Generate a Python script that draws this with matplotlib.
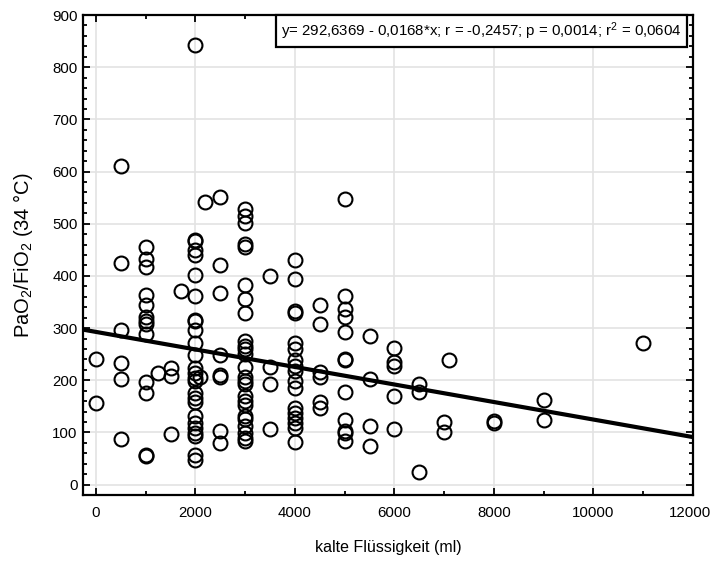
import matplotlib
matplotlib.use('Agg')
import matplotlib.pyplot as plt
import matplotlib.transforms as mtransforms
from matplotlib.ticker import MultipleLocator

# Volume of cold fluid (ml) per column of points, and the PaO2/FiO2 values
fluid_x = (
    [0] * 2 + [500] * 6 + [1000] * 13 + [1250] + [1500] * 3 + [1700]
    + [2000] * 26 + [2100] + [2200] + [2500] * 8 + [3000] * 25 + [3500] * 4
    + [4000] * 17 + [4500] * 6 + [5000] * 12 + [5500] * 4 + [6000] * 5
    + [6500] * 3 + [7000] * 2 + [7100] + [8000] * 2 + [9000] * 2 + [11000]
)
pao2_fio2 = [
    241, 156,
    610, 425, 296, 234, 203, 88,
    455, 433, 418, 364, 344, 322, 313, 308, 289, 196, 176, 57, 55,
    214,
    224, 209, 96,
    372,
    843, 468, 466, 449, 440, 402, 361, 316, 313, 297, 271, 249, 224, 214, 204,
    198, 176, 166, 158, 131, 118, 109, 99, 93, 57, 48,
    206,
    541,
    552, 421, 367, 249, 211, 206, 103, 80,
    529, 514, 502, 461, 456, 383, 356, 329, 275, 265, 259, 251, 225, 207, 198,
    192, 169, 160, 153, 131, 125, 113, 99, 89, 83,
    399, 225, 192, 107,
    430, 395, 332, 329, 271, 259, 239, 227, 217, 198, 185, 147, 137, 128, 118,
    109, 81,
    345, 307, 216, 206, 158, 147,
    547, 361, 337, 322, 292, 241, 239, 177, 123, 102, 99, 84,
    284, 203, 112, 73,
    261, 235, 227, 169, 107,
    193, 177, 24,
    120, 100,
    238,
    121, 118,
    162, 123,
    271,
]

# Regression result as printed on the chart
intercept = 292.6369
slope = -0.0168
fit_text = 'y= 292,6369 - 0,0168*x; r = -0,2457; p = 0,0014; r$^2$ = 0,0604'

x_ticks = [0, 2000, 4000, 6000, 8000, 10000, 12000]
y_ticks = [0, 100, 200, 300, 400, 500, 600, 700, 800, 900]


def draw_plot():
    plt.rcParams['font.family'] = ['Liberation Sans', 'DejaVu Sans']
    plt.rcParams['mathtext.fontset'] = 'custom'
    plt.rcParams['mathtext.rm'] = 'Liberation Sans'
    plt.rcParams['mathtext.it'] = 'Liberation Sans'

    fig = plt.figure(figsize=(7.1, 5.62), dpi=100)
    ax = fig.add_axes([0.117, 0.1192, 0.859, 0.854])

    x_min, x_max = -260, 12000
    y_min, y_max = -20, 900

    # open circles
    ax.plot(fluid_x, pao2_fio2, linestyle='none', marker='o', markersize=10,
            markerfacecolor='none', markeredgecolor='black',
            markeredgewidth=1.5, zorder=3)

    # regression line across the whole x range
    ax.plot([x_min, x_max],
            [intercept + slope * x_min, intercept + slope * x_max],
            color='black', linewidth=3, zorder=4)

    ax.set_xlim(x_min, x_max)
    ax.set_ylim(y_min, y_max)
    ax.set_xticks(x_ticks)
    ax.set_yticks(y_ticks)
    ax.xaxis.set_minor_locator(MultipleLocator(1000))
    ax.yaxis.set_minor_locator(MultipleLocator(20))

    ax.grid(True, which='major', color='#e3e3e3', linewidth=1.2, zorder=0)
    ax.set_axisbelow(True)

    ax.tick_params(which='both', direction='in', top=True, right=True,
                   labelsize=10.8, width=1.3)
    ax.tick_params(axis='x', which='major', pad=8)
    ax.tick_params(axis='y', which='major', pad=4)
    ax.tick_params(which='major', length=5)
    ax.tick_params(which='minor', length=3)
    for spine in ax.spines.values():
        spine.set_linewidth(1.6)

    # nudge the last x label a little so it stays inside the image
    last_label = ax.get_xticklabels()[-1]
    last_label.set_transform(last_label.get_transform() +
                             mtransforms.ScaledTranslation(-0.03, 0, fig.dpi_scale_trans))

    ax.set_xlabel('kalte Flüssigkeit (ml)', fontsize=11.5)
    ax.xaxis.set_label_coords(0.5, -0.094)
    ax.set_ylabel('PaO$_2$/FiO$_2$ (34 °C)', fontsize=14.5)
    ax.yaxis.set_label_coords(-0.078, 0.5)

    ax.text(0.981, 0.989, fit_text, transform=ax.transAxes, ha='right',
            va='top', fontsize=10.8, zorder=5,
            bbox=dict(boxstyle='square,pad=0.35', facecolor='white',
                      edgecolor='black', linewidth=1.6))

    fig.savefig('out.png', dpi=100)
    return ax


if __name__ == '__main__':
    draw_plot()
